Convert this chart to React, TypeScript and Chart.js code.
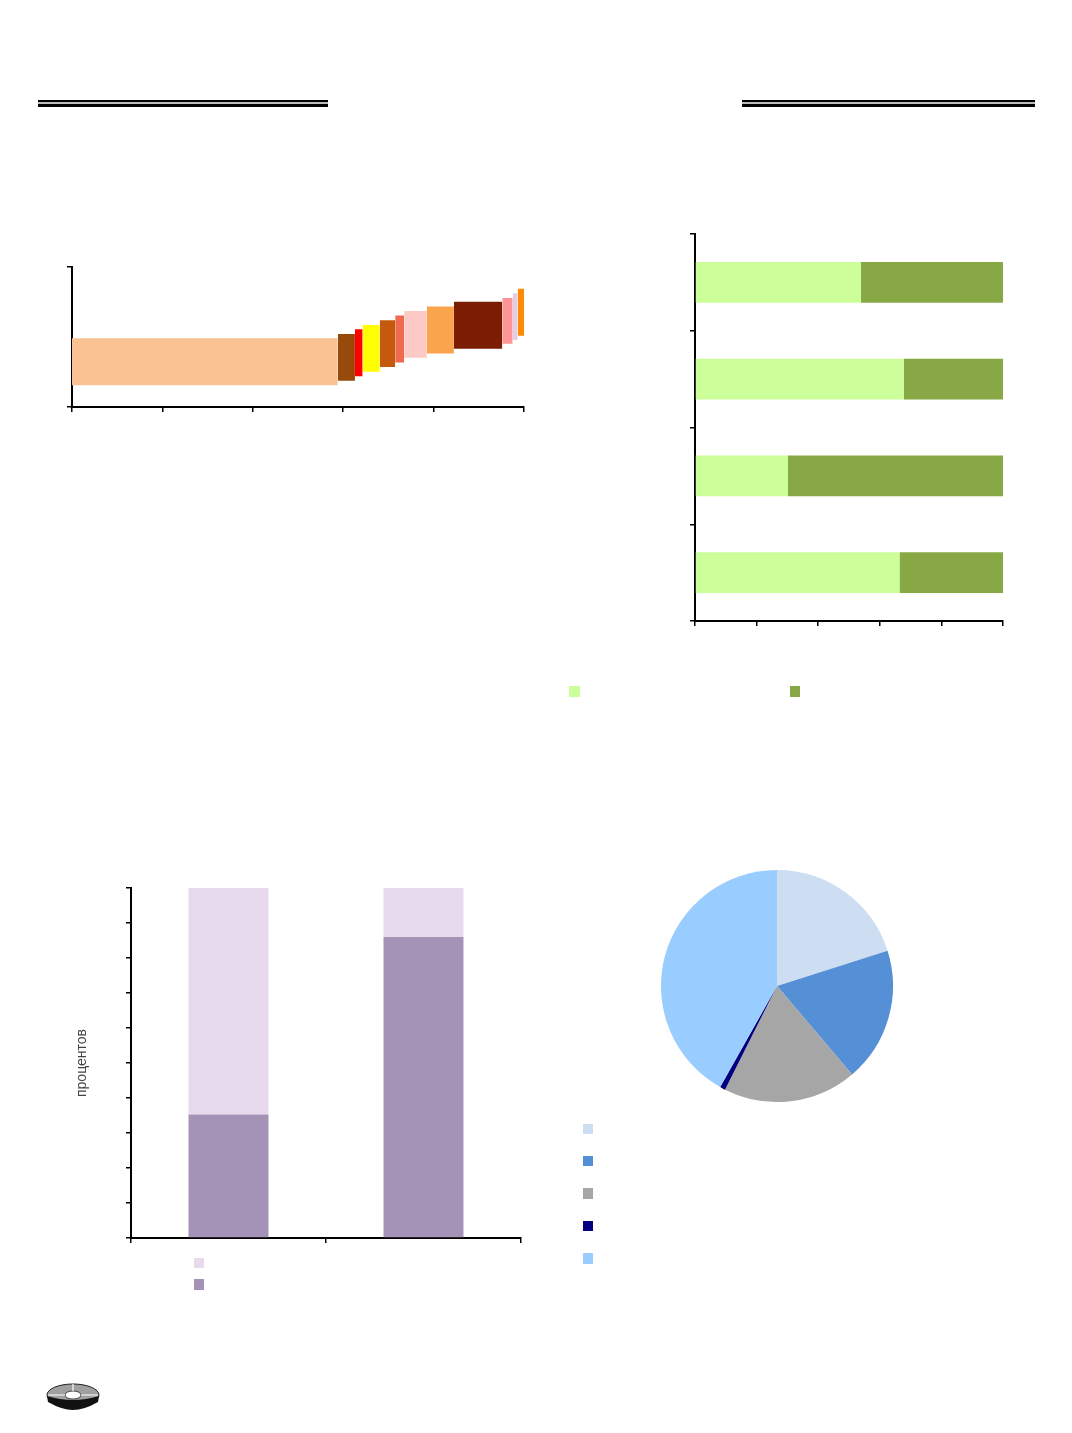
import React, { useRef, useEffect } from 'react';
import { Chart, registerables } from 'chart.js';

Chart.register(...registerables);

// --- chart 1: stepped cost blocks (x from/to, y low/high) ---
const blockStarts = [0, 58.8, 62.6, 64.3, 68.1, 71.5, 73.5, 78.5, 84.5, 95.2, 97.5, 98.6];
const blockEnds = [58.8, 62.6, 64.3, 68.1, 71.5, 73.5, 78.5, 84.5, 95.2, 97.5, 98.6, 100.3];
const blockLows = [15.6, 18.7, 22.0, 25.1, 28.5, 31.8, 35.2, 38.3, 41.6, 45.2, 47.8, 50.9];
const blockHighs = [49.1, 52.2, 55.5, 58.6, 62.0, 65.3, 68.6, 71.7, 75.1, 77.8, 81.3, 84.4];
const blockColors = [
    '#FAC193', '#974A0A', '#FF0000', '#FFFF00', '#C55A0E', '#F06A50',
    '#FBCAC4', '#FBA44E', '#7A1D02', '#FF9494', '#E3CDE6', '#FF8A05',
];

// --- chart 2: 100% horizontal bars ---
const shareCategories = ['Группа 1', 'Группа 2', 'Группа 3', 'Группа 4'];
const shareLight = [53.9, 67.8, 30.2, 66.4];
const shareDark = [46.1, 32.2, 69.8, 33.6];

// --- chart 3: 100% vertical bars ---
const pctCategories = ['А', 'Б'];
const pctDark = [35.3, 86.0];
const pctLight = [64.7, 14.0];

// --- chart 4: pie ---
const pieLabels = ['1', '2', '3', '4', '5'];
const pieValues = [20.1, 18.7, 18.6, 0.75, 41.85];
const pieColors = ['#CDDEF3', '#558FD5', '#A6A6A6', '#000080', '#99CCFF'];

const axis = (ticks: any, extra: any = {}) => ({
    grid: { display: true, drawOnChartArea: false, drawTicks: true, tickLength: 5, color: '#000', lineWidth: 1.5 },
    border: { display: true, color: '#000', width: 2 },
    ticks: { display: false, ...ticks },
    ...extra,
});

const basePlugins = { legend: { display: false }, tooltip: { enabled: false } };

const costConfig: any = {
    type: 'line',
    data: {
        datasets: blockStarts.map((s, i) => ({
            data: [{ x: s, y: blockHighs[i] }, { x: blockEnds[i], y: blockHighs[i] }],
            fill: { value: blockLows[i] },
            backgroundColor: blockColors[i],
            borderColor: 'rgba(0,0,0,0)',
            borderWidth: 0,
            pointRadius: 0,
            clip: 4,
        })),
    },
    options: {
        animation: false,
        responsive: true,
        maintainAspectRatio: false,
        layout: { padding: { left: 17, right: 26, top: 17, bottom: 18 } },
        plugins: basePlugins,
        scales: {
            x: axis({ stepSize: 20 }, { type: 'linear', min: 0, max: 100 }),
            y: axis({ stepSize: 100 }, { type: 'linear', min: 0, max: 100 }),
        },
    },
};

const shareConfig: any = {
    type: 'bar',
    data: {
        labels: shareCategories,
        datasets: [
            { data: shareLight, backgroundColor: '#CCFF99' },
            { data: shareDark, backgroundColor: '#87A845' },
        ],
    },
    options: {
        indexAxis: 'y',
        animation: false,
        responsive: true,
        maintainAspectRatio: false,
        layout: { padding: { left: 30, right: 27, top: 14, bottom: 14 } },
        plugins: basePlugins,
        datasets: { bar: { barPercentage: 0.42, categoryPercentage: 1 } },
        scales: {
            x: axis({ stepSize: 20 }, { stacked: true, min: 0, max: 100 }),
            y: {
                ...axis({}, { stacked: true, offset: true }),
                grid: { display: true, drawOnChartArea: false, drawTicks: true, tickLength: 5, color: '#000', lineWidth: 1.5, offset: true },
            },
        },
    },
};

const pctConfig: any = {
    type: 'bar',
    data: {
        labels: pctCategories,
        datasets: [
            { data: pctDark, backgroundColor: '#A492B7' },
            { data: pctLight, backgroundColor: '#E7DAEC' },
        ],
    },
    options: {
        animation: false,
        responsive: true,
        maintainAspectRatio: false,
        layout: { padding: { left: 9.6, right: 19, top: 13, bottom: 12 } },
        plugins: basePlugins,
        datasets: { bar: { barPercentage: 0.41, categoryPercentage: 1 } },
        scales: {
            x: {
                ...axis({}, { stacked: true, offset: true }),
                grid: { display: true, drawOnChartArea: false, drawTicks: true, tickLength: 5, color: '#000', lineWidth: 1.5, offset: true },
            },
            y: axis({ stepSize: 10 }, {
                stacked: true,
                min: 0,
                max: 100,
                title: {
                    display: true,
                    text: 'процентов',
                    color: '#444',
                    font: { family: 'Arial, "Liberation Sans", sans-serif', size: 14 },
                    padding: { top: 4, bottom: 35.6 },
                },
            }),
        },
    },
};

const pieConfig: any = {
    type: 'pie',
    data: {
        labels: pieLabels,
        datasets: [{ data: pieValues, backgroundColor: pieColors, borderWidth: 0 }],
    },
    options: {
        animation: false,
        responsive: true,
        maintainAspectRatio: false,
        layout: { padding: 14 },
        plugins: basePlugins,
    },
};

const ChartBox: React.FC<{ config: any; box: React.CSSProperties }> = ({ config, box }) => {
    const canvasRef = useRef<HTMLCanvasElement>(null);

    useEffect(() => {
        if (!canvasRef.current) return;
        const chart = new Chart(canvasRef.current, config);
        return () => chart.destroy();
    }, [config]);

    return (
        <div style={{ position: 'absolute', ...box }}>
            <canvas ref={canvasRef}></canvas>
        </div>
    );
};

const Square: React.FC<{ x: number; y: number; color: string }> = ({ x, y, color }) => (
    <div style={{ position: 'absolute', left: x, top: y, width: 10.5, height: 10.5, background: color }} />
);

const DoubleRule: React.FC<{ x: number; w: number }> = ({ x, w }) => (
    <>
        <div style={{ position: 'absolute', left: x, top: 100, width: w, height: 1.5, background: '#000' }} />
        <div style={{ position: 'absolute', left: x, top: 101.5, width: w, height: 2, background: '#bbb' }} />
        <div style={{ position: 'absolute', left: x, top: 103.5, width: w, height: 3, background: '#000' }} />
    </>
);

const App: React.FC = () => {
    return (
        <div style={{ position: 'absolute', left: 0, top: 0, width: 1072, height: 1433, background: '#fff', overflow: 'hidden' }}>
            <DoubleRule x={38} w={290} />
            <DoubleRule x={742} w={293} />

            <ChartBox config={costConfig} box={{ left: 50, top: 250, width: 500, height: 180 }} />
            <ChartBox config={shareConfig} box={{ left: 660, top: 220, width: 370, height: 420 }} />
            <Square x={569} y={686} color="#CCFF99" />
            <Square x={789.5} y={686} color="#87A845" />

            <ChartBox config={pctConfig} box={{ left: 60, top: 875, width: 480, height: 380 }} />
            <Square x={193.5} y={1257.5} color="#E7DAEC" />
            <Square x={193.5} y={1279} color="#A492B7" />

            <ChartBox config={pieConfig} box={{ left: 646.7, top: 855.5, width: 260, height: 260 }} />
            {pieColors.map((c, i) => (
                <Square key={i} x={582.5} y={1123.5 + i * 32.4} color={c} />
            ))}

            <svg style={{ position: 'absolute', left: 44, top: 1380 }} width="60" height="34" viewBox="0 0 60 34">
                <ellipse cx="29" cy="15" rx="26" ry="11" fill="#a0a0a0" stroke="#222" strokeWidth="1" />
                <path d="M3 16 Q29 24 55 16 L54 22 Q40 30 29 30 Q18 30 4 22 Z" fill="#111" />
                <ellipse cx="29" cy="15" rx="8" ry="4" fill="#fff" stroke="#222" strokeWidth="0.8" />
                <line x1="29" y1="4" x2="29" y2="11" stroke="#fff" strokeWidth="1.2" />
                <line x1="4" y1="15" x2="21" y2="15" stroke="#fff" strokeWidth="1" />
                <line x1="37" y1="15" x2="54" y2="15" stroke="#fff" strokeWidth="1" />
            </svg>
        </div>
    );
};

export default App;
